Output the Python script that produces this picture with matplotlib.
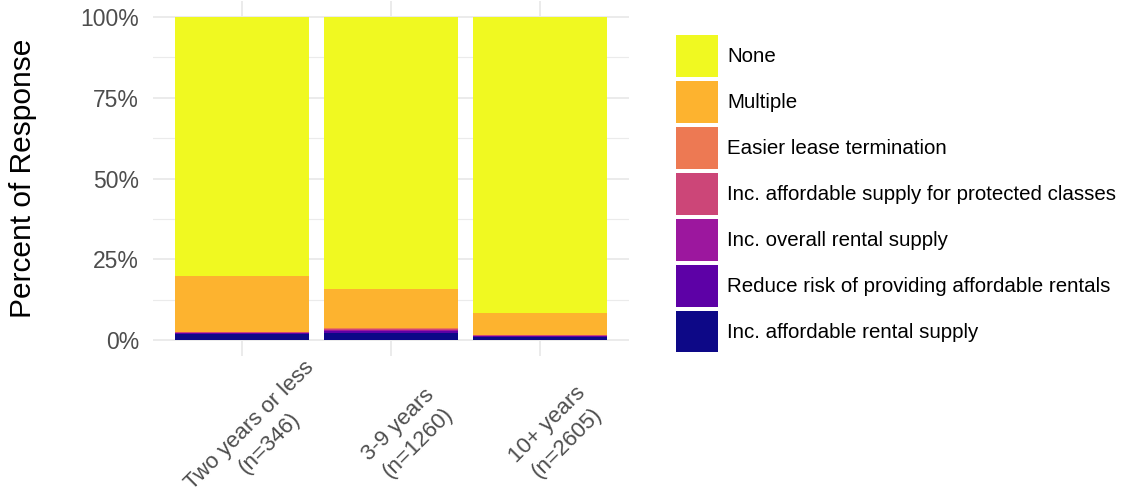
import matplotlib
matplotlib.use("Agg")
import matplotlib.pyplot as plt
from matplotlib.patches import Patch
import numpy as np

plt.rcParams['font.family'] = ['Liberation Sans', 'DejaVu Sans']

categories = ["Two years or less\n(n=346)", "3-9 years\n(n=1260)", "10+ years\n(n=2605)"]
series_names = ["Inc. affordable rental supply",
                "Reduce risk of providing affordable rentals",
                "Inc. overall rental supply",
                "Inc. affordable supply for protected classes",
                "Easier lease termination",
                "Multiple",
                "None"]
inc_affordable_rental = [1.7, 2.0, 0.8]
reduce_risk = [0.3, 0.8, 0.4]
inc_overall = [0.2, 0.3, 0.1]
inc_protected = [0.1, 0.2, 0.1]
easier_lease = [0.2, 0.3, 0.2]
multiple = [17.3, 12.2, 6.7]
none_vals = [80.2, 84.2, 91.7]
colors = ["#0D0887", "#5D01A6", "#9C179E", "#CC4678", "#ED7953", "#FDB32F", "#F0F921"]

series = [inc_affordable_rental, reduce_risk, inc_overall, inc_protected,
          easier_lease, multiple, none_vals]

fig = plt.figure(figsize=(11.27, 5.0), dpi=100)
W, H = 1127, 500
ax = fig.add_axes([153 / W, 1 - 356 / H, (629 - 153) / W, (356 - 1) / H])

x = np.arange(len(categories))
data = np.array(series, dtype=float)
data = data / data.sum(axis=0) * 100
bottom = np.zeros(len(categories))
handles = []
for name, vals, c in zip(series_names, data, colors):
    ax.bar(x, vals, bottom=bottom, width=0.9, color=c, linewidth=0, zorder=2)
    bottom += vals
    handles.append(Patch(facecolor=c, edgecolor='none', label=name))

ax.set_xlim(-0.6, 2.6)
ax.set_ylim(-5, 105)
ax.set_yticks([0, 25, 50, 75, 100])
ax.set_yticklabels(["0%", "25%", "50%", "75%", "100%"])
ax.set_yticks([12.5, 37.5, 62.5, 87.5], minor=True)
ax.set_xticks(x)
ax.set_xticklabels([""] * len(x))
ax.grid(True, which='major', color='#EBEBEB', linewidth=1.4, zorder=0)
ax.grid(True, which='minor', axis='y', color='#EBEBEB', linewidth=0.8, zorder=0)
ax.tick_params(axis='both', which='both', length=0, labelsize=16.5, labelcolor='#4D4D4D', pad=10)
for s in ax.spines.values():
    s.set_visible(False)
ax.set_ylabel("Percent of Response", fontsize=21.5, color='black', labelpad=31)

line_offsets = [(7.5, -69), (27, -87)]
for i, lab in enumerate(categories):
    for part, off in zip(lab.split("\n"), line_offsets):
        ax.annotate(part, xy=(i, 0), xycoords=('data', 'axes fraction'),
                    xytext=off, textcoords='offset pixels',
                    rotation=45, ha='center', va='center',
                    fontsize=16, color='#4D4D4D')

fs = 14.8
fpx = fs * 100 / 72
leg = fig.legend(handles[::-1], series_names[::-1],
                 loc='upper left', bbox_to_anchor=(676 / W, 1 - 35 / H),
                 frameon=False, fontsize=fs,
                 handlelength=2.04, handleheight=42 / (fpx * 0.74),
                 labelspacing=4 / fpx, handletextpad=9 / fpx, borderpad=0,
                 borderaxespad=0)
for t in leg.get_texts():
    t.set_va('baseline')

fig.savefig("out.png", dpi=100)
